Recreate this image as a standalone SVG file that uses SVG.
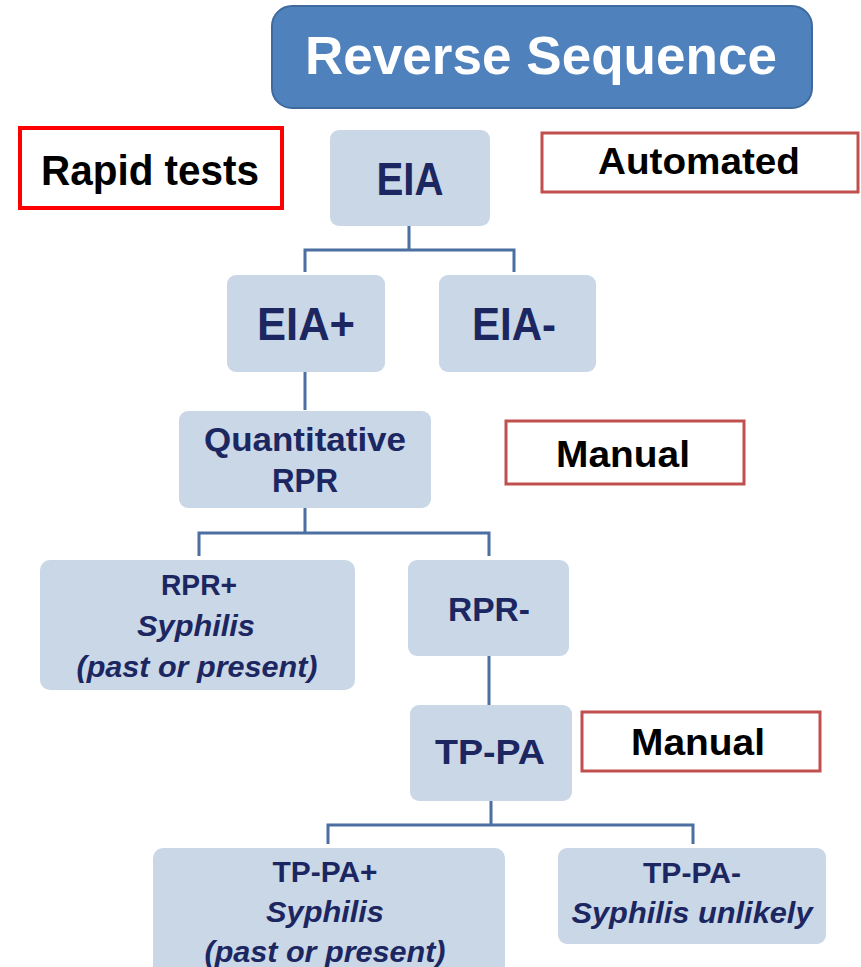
<svg xmlns="http://www.w3.org/2000/svg" width="861" height="967" viewBox="0 0 861 967">
<style>
.node{fill:#c9d7e7;}
.lbl{font-family:"Liberation Sans",Arial,sans-serif;font-weight:bold;fill:#1c2660;text-anchor:middle;}
.it{font-style:italic;}
.tag{fill:#ffffff;stroke:#c0504d;stroke-width:3;}
.tagt{font-family:"Liberation Sans",Arial,sans-serif;font-weight:bold;fill:#000000;text-anchor:middle;}
.conn{fill:none;stroke:#4a6fa0;stroke-width:3;}
</style>
<rect width="861" height="967" fill="#ffffff"/>
<g id="title">
<rect x="272" y="6" width="540" height="102" rx="20" fill="#4f81bd" stroke="#3e6a9e" stroke-width="2"/>
<text x="541" y="74" font-family="Liberation Sans,Arial,sans-serif" font-weight="bold" font-size="54" fill="#ffffff" text-anchor="middle" textLength="472" lengthAdjust="spacingAndGlyphs">Reverse Sequence</text>
</g>
<g id="rapid">
<rect x="20" y="128" width="262" height="80" fill="#ffffff" stroke="#ff0000" stroke-width="4"/>
<text class="tagt" x="150" y="185" font-size="43" textLength="218" lengthAdjust="spacingAndGlyphs">Rapid tests</text>
</g>
<g id="automated">
<rect class="tag" x="542" y="133" width="316" height="59"/>
<text class="tagt" x="699" y="174" font-size="37" textLength="202" lengthAdjust="spacingAndGlyphs">Automated</text>
</g>
<g id="manual1">
<rect class="tag" x="506" y="421" width="238" height="63"/>
<text class="tagt" x="623" y="467" font-size="37" textLength="134" lengthAdjust="spacingAndGlyphs">Manual</text>
</g>
<g id="manual2">
<rect class="tag" x="582" y="712" width="238" height="59"/>
<text class="tagt" x="698" y="755" font-size="37" textLength="134" lengthAdjust="spacingAndGlyphs">Manual</text>
</g>
<g id="connectors">
<path class="conn" d="M409 226 V250 M305 272 V250 H514 V272"/>
<path class="conn" d="M305 372 V410"/>
<path class="conn" d="M305 508 V533 M199 556 V533 H489 V556"/>
<path class="conn" d="M489 656 V705"/>
<path class="conn" d="M491 801 V825 M328 844 V825 H693 V844"/>
</g>
<g id="eia">
<rect class="node" x="330" y="130" width="160" height="96" rx="9"/>
<text class="lbl" x="410" y="195" font-size="46" textLength="67" lengthAdjust="spacingAndGlyphs">EIA</text>
</g>
<g id="eiapos">
<rect class="node" x="227" y="275" width="158" height="97" rx="9"/>
<text class="lbl" x="306" y="340" font-size="46" textLength="98" lengthAdjust="spacingAndGlyphs">EIA+</text>
</g>
<g id="eianeg">
<rect class="node" x="439" y="275" width="157" height="97" rx="9"/>
<text class="lbl" x="514" y="340" font-size="46" textLength="84" lengthAdjust="spacingAndGlyphs">EIA-</text>
</g>
<g id="qrpr">
<rect class="node" x="179" y="411" width="252" height="97" rx="9"/>
<text class="lbl" x="305" y="451" font-size="34" textLength="202" lengthAdjust="spacingAndGlyphs">Quantitative</text>
<text class="lbl" x="305" y="492" font-size="34" textLength="66" lengthAdjust="spacingAndGlyphs">RPR</text>
</g>
<g id="rprpos">
<rect class="node" x="40" y="560" width="315" height="130" rx="10"/>
<text class="lbl" x="199" y="595" font-size="29" textLength="76" lengthAdjust="spacingAndGlyphs">RPR+</text>
<text class="lbl it" x="196" y="636" font-size="30" textLength="118" lengthAdjust="spacingAndGlyphs">Syphilis</text>
<text class="lbl it" x="197" y="677" font-size="30" textLength="241" lengthAdjust="spacingAndGlyphs">(past or present)</text>
</g>
<g id="rprneg">
<rect class="node" x="408" y="560" width="161" height="96" rx="9"/>
<text class="lbl" x="489" y="621" font-size="33" textLength="82" lengthAdjust="spacingAndGlyphs">RPR-</text>
</g>
<g id="tppa">
<rect class="node" x="410" y="705" width="162" height="96" rx="9"/>
<text class="lbl" x="490" y="764" font-size="35" textLength="110" lengthAdjust="spacingAndGlyphs">TP-PA</text>
</g>
<g id="tppapos">
<rect class="node" x="153" y="848" width="352" height="130" rx="10"/>
<text class="lbl" x="325" y="882" font-size="30" textLength="105" lengthAdjust="spacingAndGlyphs">TP-PA+</text>
<text class="lbl it" x="325" y="922" font-size="30" textLength="118" lengthAdjust="spacingAndGlyphs">Syphilis</text>
<text class="lbl it" x="325" y="962" font-size="30" textLength="241" lengthAdjust="spacingAndGlyphs">(past or present)</text>
</g>
<g id="tppaneg">
<rect class="node" x="558" y="848" width="268" height="96" rx="9"/>
<text class="lbl" x="692" y="883" font-size="30" textLength="98" lengthAdjust="spacingAndGlyphs">TP-PA-</text>
<text class="lbl it" x="692" y="923" font-size="30" textLength="241" lengthAdjust="spacingAndGlyphs">Syphilis unlikely</text>
</g>
</svg>
